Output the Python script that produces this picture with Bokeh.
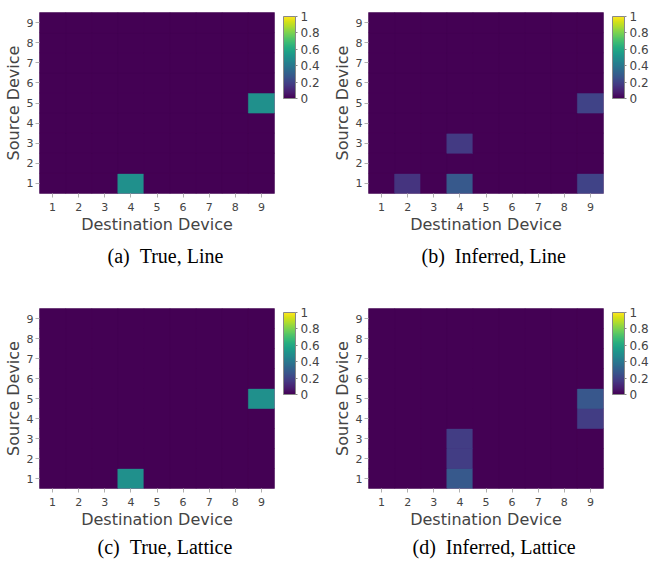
from bokeh.plotting import figure
from bokeh.models import LinearColorMapper, ColorBar, FixedTicker, Range1d, Title, ColumnDataSource
from bokeh.layouts import column, row
from bokeh.palettes import Viridis256
from bokeh.embed import file_html
from bokeh.resources import INLINE

# Devices (destination = x, source = y)
devices = [1, 2, 3, 4, 5, 6, 7, 8, 9]
cbar_ticks = [0, 0.2, 0.4, 0.6, 0.8, 1]

# Matrices: row i = source device i+1, column j = destination device j+1
true_line = [
    [0, 0, 0, 0.50, 0, 0, 0, 0, 0],
    [0, 0, 0, 0, 0, 0, 0, 0, 0],
    [0, 0, 0, 0, 0, 0, 0, 0, 0],
    [0, 0, 0, 0, 0, 0, 0, 0, 0],
    [0, 0, 0, 0, 0, 0, 0, 0, 0.50],
    [0, 0, 0, 0, 0, 0, 0, 0, 0],
    [0, 0, 0, 0, 0, 0, 0, 0, 0],
    [0, 0, 0, 0, 0, 0, 0, 0, 0],
    [0, 0, 0, 0, 0, 0, 0, 0, 0],
]
inferred_line = [
    [0, 0.15, 0, 0.28, 0, 0, 0, 0, 0.20],
    [0, 0, 0, 0, 0, 0, 0, 0, 0],
    [0, 0, 0, 0.17, 0, 0, 0, 0, 0],
    [0, 0, 0, 0, 0, 0, 0, 0, 0],
    [0, 0, 0, 0, 0, 0, 0, 0, 0.20],
    [0, 0, 0, 0, 0, 0, 0, 0, 0],
    [0, 0, 0, 0, 0, 0, 0, 0, 0],
    [0, 0, 0, 0, 0, 0, 0, 0, 0],
    [0, 0, 0, 0, 0, 0, 0, 0, 0],
]
true_lattice = [
    [0, 0, 0, 0.50, 0, 0, 0, 0, 0],
    [0, 0, 0, 0, 0, 0, 0, 0, 0],
    [0, 0, 0, 0, 0, 0, 0, 0, 0],
    [0, 0, 0, 0, 0, 0, 0, 0, 0],
    [0, 0, 0, 0, 0, 0, 0, 0, 0.50],
    [0, 0, 0, 0, 0, 0, 0, 0, 0],
    [0, 0, 0, 0, 0, 0, 0, 0, 0],
    [0, 0, 0, 0, 0, 0, 0, 0, 0],
    [0, 0, 0, 0, 0, 0, 0, 0, 0],
]
inferred_lattice = [
    [0, 0, 0, 0.28, 0, 0, 0, 0, 0],
    [0, 0, 0, 0.18, 0, 0, 0, 0, 0],
    [0, 0, 0, 0.18, 0, 0, 0, 0, 0],
    [0, 0, 0, 0, 0, 0, 0, 0, 0.18],
    [0, 0, 0, 0, 0, 0, 0, 0, 0.27],
    [0, 0, 0, 0, 0, 0, 0, 0, 0],
    [0, 0, 0, 0, 0, 0, 0, 0, 0],
    [0, 0, 0, 0, 0, 0, 0, 0, 0],
    [0, 0, 0, 0, 0, 0, 0, 0, 0],
]

captions = ["(a)\u00a0\u00a0True, Line", "(b)\u00a0\u00a0Inferred, Line",
            "(c)\u00a0\u00a0True, Lattice", "(d)\u00a0\u00a0Inferred, Lattice"]

FONT = "DejaVu Sans"
GRAY = "#444444"
FRAME_W = 236
LEFT = 38


def make_panel(matrix, caption, cap_offset, cap_standoff, width, height, top, frame_h):
    xs, ys, vs = [], [], []
    for i, src in enumerate(devices):
        for j, dst in enumerate(devices):
            xs.append(dst)
            ys.append(src)
            vs.append(matrix[i][j])
    src_ds = ColumnDataSource(dict(x=xs, y=ys, v=vs))
    mapper = LinearColorMapper(palette=Viridis256, low=0, high=1)

    p = figure(width=width, height=height, output_backend="svg", toolbar_location=None,
               x_range=Range1d(0.5, 9.5), y_range=Range1d(0.5, 9.5),
               min_border_left=LEFT, min_border_right=width - LEFT - FRAME_W,
               min_border_top=top, min_border_bottom=height - top - frame_h)
    p.rect(x="x", y="y", width=1, height=1, source=src_ds,
           fill_color={"field": "v", "transform": mapper},
           line_color={"field": "v", "transform": mapper}, line_width=0.6)

    for ax in (p.xaxis[0], p.yaxis[0]):
        ax.ticker = FixedTicker(ticks=devices)
        ax.axis_line_color = None
        ax.major_tick_line_color = "#b0b0b0"
        ax.major_tick_out = 4
        ax.major_tick_in = 0
        ax.minor_tick_line_color = None
        ax.major_label_text_font = FONT
        ax.major_label_text_font_size = "11px"
        ax.major_label_text_color = GRAY
        ax.axis_label_text_font = FONT
        ax.axis_label_text_font_size = "16px"
        ax.axis_label_text_font_style = "normal"
        ax.axis_label_text_color = GRAY
        ax.axis_label_standoff = 1
    p.xaxis[0].major_label_standoff = 5
    p.yaxis[0].major_label_standoff = 2
    p.xaxis.axis_label = "Destination Device"
    p.yaxis.axis_label = "Source Device"
    p.grid.visible = False
    p.outline_line_color = "#8c7196"
    p.outline_line_alpha = 0.6
    p.background_fill_color = Viridis256[0]
    p.border_fill_color = "white"

    cb = ColorBar(color_mapper=mapper, ticker=FixedTicker(ticks=cbar_ticks),
                  width=12, height=82, padding=0, margin=0,
                  bar_line_color="#888888", bar_line_width=1,
                  major_tick_line_color="#888888", major_tick_out=2, major_tick_in=0,
                  major_label_text_font=FONT, major_label_text_font_size="12px",
                  major_label_text_color=GRAY, label_standoff=3,
                  border_line_color=None, background_fill_color=None,
                  location=(9, frame_h - 82 - 4))
    p.add_layout(cb, "right")

    t = Title(text=caption, align="left", offset=cap_offset,
              text_font="Liberation Serif", text_font_size="20px",
              text_font_style="normal", text_color="black", standoff=cap_standoff)
    p.add_layout(t, "below")
    return p


f1 = make_panel(true_line, captions[0], 68, 13, 329, 296, 12, 181)
f2 = make_panel(inferred_line, captions[1], 53, 13, 322, 296, 12, 181)
f3 = make_panel(true_lattice, captions[2], 58, 5, 329, 268, 12, 180)
f4 = make_panel(inferred_lattice, captions[3], 44, 5, 322, 268, 12, 180)

layout = column(row(f1, f2), row(f3, f4))
open("out.html", "w").write(file_html(layout, INLINE))
